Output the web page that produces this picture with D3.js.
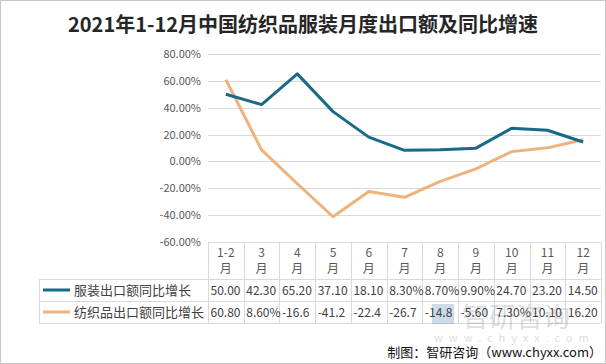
<!DOCTYPE html>
<html><head><meta charset="utf-8">
<script src="https://cdn.jsdelivr.net/npm/d3@7"></script>
<style>body{margin:0;background:#fff}svg{display:block}text{font-family:"Microsoft YaHei","Noto Sans CJK SC",sans-serif}</style>
</head><body><div id="chart"></div>
<script>
const title = "2021年1-12月中国纺织品服装月度出口额及同比增速";
const categories = ["1-2","3","4","5","6","7","8","9","10","11","12"];
const seriesNames = ["服装出口额同比增长","纺织品出口额同比增长"];
const apparel = [50.0,42.3,65.2,37.1,18.1,8.3,8.7,9.9,24.7,23.2,14.5];
const textiles = [60.8,8.6,-16.6,-41.2,-22.4,-26.7,-14.8,-5.6,7.3,10.1,16.2];
const yTicks = [80,60,40,20,0,-20,-40,-60];
const colors = ["#186a88","#f0b27c"];
const source = "制图：智研咨询（www.chyxx.com）";

const W=606,H=364;
const svg=d3.select("#chart").append("svg").attr("width",W).attr("height",H);
svg.append("rect").attr("x",0.5).attr("y",0.5).attr("width",W-1).attr("height",H-1).attr("fill","#fff").attr("stroke","#c8c8c8");

const x=d3.scaleBand().domain(categories).range([208,601]);
const y=d3.scaleLinear().domain([-60,80]).range([242,54]);

svg.append("text").attr("x",303).attr("y",32).attr("text-anchor","middle")
  .attr("font-size",20).attr("font-weight","bold").attr("fill","#262626").text(title);

// grid
svg.append("g").selectAll("line").data(yTicks).join("line")
  .attr("x1",208).attr("x2",601).attr("y1",d=>Math.round(y(d))+0.5).attr("y2",d=>Math.round(y(d))+0.5)
  .attr("stroke","#d9d9d9");
const yAxis=svg.append("g").attr("transform","translate(205,0)")
  .call(d3.axisLeft(y).tickValues(yTicks).tickSize(0).tickPadding(4).tickFormat(d=>d.toFixed(2)+"%"));
yAxis.select(".domain").remove();
yAxis.selectAll("text").attr("font-size",11).attr("fill","#595959").attr("font-family","'Microsoft YaHei','Noto Sans CJK SC',sans-serif");

// table
const rows=[279,301,323];
const tg=svg.append("g").attr("stroke","#d9d9d9").attr("fill","none");
const bounds=categories.map(c=>x(c)).concat([x.range()[1]]);
tg.selectAll(".v").data(bounds).join("line").attr("x1",d=>Math.round(d)+0.5).attr("x2",d=>Math.round(d)+0.5).attr("y1",242).attr("y2",323);
tg.append("line").attr("x1",39.5).attr("x2",39.5).attr("y1",279).attr("y2",323);
tg.selectAll(".h").data(rows).join("line").attr("x1",39).attr("x2",601).attr("y1",d=>d+0.5).attr("y2",d=>d+0.5);

// watermark (behind the table text)
const wm=svg.append("g").attr("opacity",0.28);
wm.append("rect").attr("x",432).attr("y",304).attr("width",22).attr("height",20).attr("fill","#4a7fb0");
wm.append("text").attr("x",462).attr("y",327).attr("font-size",27).attr("fill","#7f8c99").text("智研咨询");
wm.append("text").attr("x",434).attr("y",342).attr("font-size",11).attr("letter-spacing",6).attr("fill","#7f8c99").text("www.chyxx.com");

const hdr=svg.append("g");
categories.forEach(c=>{
  const cx=x(c)+x.bandwidth()/2;
  hdr.append("text").attr("x",cx).attr("y",257).attr("text-anchor","middle").attr("font-size",12).attr("fill","#595959").text(c);
  hdr.append("text").attr("x",cx).attr("y",273).attr("text-anchor","middle").attr("font-size",12).attr("fill","#595959").text("月");
});

[apparel,textiles].forEach((vals,i)=>{
  const cy=(rows[i]+rows[i+1])/2;
  svg.append("line").attr("x1",43).attr("x2",70).attr("y1",cy).attr("y2",cy).attr("stroke",colors[i]).attr("stroke-width",3);
  svg.append("text").attr("x",74).attr("y",cy+4.5).attr("font-size",13).attr("fill","#404040").text(seriesNames[i]);
  vals.forEach((v,j)=>{
    const s=(v.toFixed(2)+"%").slice(0,5);
    svg.append("text").attr("x",x(categories[j])+2.5).attr("y",cy+4.5).attr("font-size",12).attr("fill","#404040").text(s);
  });
});

// lines
const line=d3.line().x((d,i)=>x(categories[i])+x.bandwidth()/2).y(d=>y(d));
[1,0].forEach(i=>{
  svg.append("path").attr("d",line([apparel,textiles][i])).attr("fill","none").attr("stroke",colors[i]).attr("stroke-width",3).attr("stroke-linejoin","round");
});

svg.append("text").attr("x",602).attr("y",357).attr("text-anchor","end").attr("font-size",13).attr("fill","#111").text(source);
</script></body></html>
